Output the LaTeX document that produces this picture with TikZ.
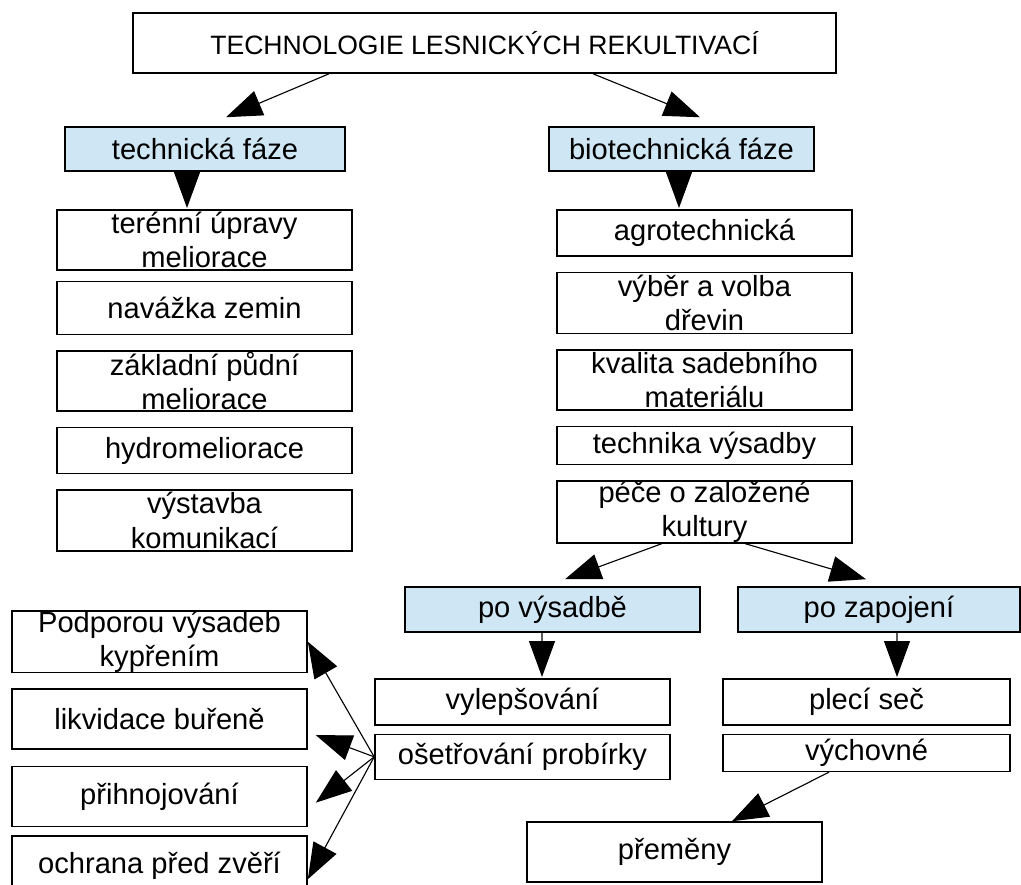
\documentclass[tikz,border=0pt]{standalone}
\usepackage{fontspec}
\setmainfont{Liberation Sans}
\usetikzlibrary{positioning,arrows.meta}
\definecolor{phaseblue}{RGB}{207,231,245}
\newcommand{\pxu}{0.025cm}

\begin{document}
\begin{tikzpicture}[x=0.025cm, y=-0.025cm]
	\tikzstyle{box}=[rectangle, draw=black, line width=1.1pt, inner sep=0pt, minimum width=7.375cm, align=center, font=\fontsize{20.7}{24.4}\selectfont, node distance=3.75mm]
	\tikzstyle{phase}=[box, fill=phaseblue, minimum height=1.1cm]
	\tikzstyle{connect}=[-{Triangle[length=9mm, width=6.5mm]}, line width=0.8pt]
	\useasboundingbox (0,0) rectangle (1021,884);

	\node[box, minimum width=17.575cm, minimum height=1.5cm, font=\fontsize{18.9}{22}\selectfont] (tlr) at (484.5,43) {TECHNOLOGIE LESNICKÝCH REKULTIVACÍ};
	\node[phase, minimum width=7cm] (tech) at (205,149) {technická fáze};
	\node[phase, minimum width=6.625cm] (bio) at (681.5,149) {biotechnická fáze};

	% technicka faze
	\node[box, minimum height=1.5cm, anchor=north] (ter) at (204.5,209) {terénní úpravy\\meliorace};
	\node[box, minimum height=1.325cm] (nav) [below=2.5mm of ter] {navážka zemin};
	\node[box, minimum height=1.5cm] (zak) [below=of nav] {základní půdní\\meliorace};
	\node[box, minimum height=1.15cm] (hyd) [below=of zak] {hydromeliorace};
	\node[box, minimum height=1.525cm] (vys) [below=of hyd] {výstavba\\komunikací};

	% biotechnicka faze
	\node[box, minimum height=1.15cm, anchor=north] (agr) at (704.5,209) {agrotechnická};
	\node[box, minimum height=1.525cm] (vyb) [below=of agr] {výběr a volba\\dřevin};
	\node[box, minimum height=1.5cm] (kva) [below=of vyb] {kvalita sadebního\\materiálu};
	\node[box, minimum height=0.95cm] (tvy) [below=of kva] {technika výsadby};
	\node[box, minimum height=1.525cm] (pec) [below=of tvy] {péče o založené\\kultury};

	\node[phase, minimum height=1.125cm] (pov) at (552.5,609.5) {po výsadbě};
	\node[phase, minimum width=7.05cm, minimum height=1.125cm] (poz) at (879,609.5) {po zapojení};

	\node[box, minimum height=1.15cm, anchor=north] (vyl) at (522.5,678) {vylepšování};
	\node[box, minimum height=1.125cm] (ose) [below=2mm of vyl] {ošetřování probírky};
	\node[box, minimum width=7.175cm, minimum height=1.15cm, anchor=north] (ple) at (866.5,678) {plecí seč};
	\node[box, minimum width=7.175cm, minimum height=0.925cm] (vch) [below=2mm of ple] {výchovné};
	\node[box, minimum height=1.5cm] (pre) at (674.5,852) {přeměny};

	\node[box, minimum height=1.525cm, anchor=north] (pod) at (159.5,610) {Podporou výsadeb\\kypřením};
	\node[box, minimum height=1.5cm] (lik) [below=of pod] {likvidace buřeně};
	\node[box, minimum height=1.5cm] (pri) [below=4mm of lik] {přihnojování};
	\node[box, minimum height=1.5cm] (och) [below=2mm of pri] {ochrana před zvěří};

	\path ([xshift=-155.5*\pxu]tlr.south) edge [connect] ([xshift=21*\pxu, yshift=9*\pxu]tech.north)
		([xshift=108.5*\pxu]tlr.south) edge [connect] ([xshift=18.5*\pxu, yshift=9*\pxu]bio.north)
		([xshift=-18*\pxu]tech.south) edge [connect] ([xshift=-17.5*\pxu, yshift=1*\pxu]ter.north)
		([xshift=-2.5*\pxu]bio.south) edge [connect] ([xshift=-25.5*\pxu, yshift=1*\pxu]agr.north)
		([xshift=-42.5*\pxu]pec.south) edge [connect] ([xshift=12.5*\pxu, yshift=7*\pxu]pov.north)
		([xshift=40.5*\pxu]pec.south) edge [connect] ([xshift=-13*\pxu, yshift=7*\pxu]poz.north)
		([xshift=-10.5*\pxu]pov.south) edge [connect] ([xshift=19.5*\pxu, yshift=1*\pxu]vyl.north)
		([xshift=18*\pxu]poz.south) edge [connect] ([xshift=30.5*\pxu, yshift=1*\pxu]ple.north)
		([xshift=-37.5*\pxu]vch.south) edge [connect] ([xshift=57.5*\pxu]pre.north)
		(ose.west) edge [connect] (pod.east)
		(ose.west) edge [connect] ([xshift=8*\pxu, yshift=-16*\pxu]lik.east)
		(ose.west) edge [connect] ([xshift=8*\pxu, yshift=-6*\pxu]pri.east)
		(ose.west) edge [connect] ([yshift=-13*\pxu]och.east);
\end{tikzpicture}
\end{document}
